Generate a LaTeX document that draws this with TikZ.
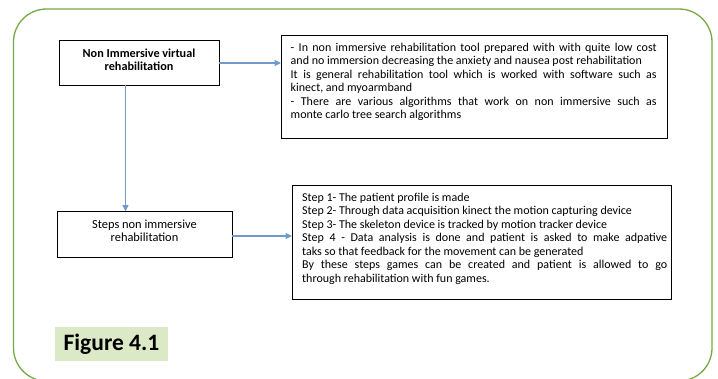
\documentclass[tikz,border=0pt]{standalone}
\usepackage{fontspec}
\setmainfont{Carlito}
\usetikzlibrary{arrows.meta}
\definecolor{framegreen}{HTML}{77A844}
\definecolor{labelgreen}{HTML}{DCE9C6}
\definecolor{linkblue}{HTML}{6F9BCB}
\hyphenpenalty=10000
\exhyphenpenalty=10000
\tikzset{
  box/.style={draw=black, line width=0.9pt, inner sep=0pt},
  link/.style={draw=linkblue, line width=1.2pt, -{Triangle[length=6.5pt,width=6pt]}},
  para/.style={font=\fontsize{12}{13.45}\selectfont, align=justify, anchor=north west, inner sep=0pt},
  title/.style={font=\fontsize{12.4}{13.2}\selectfont, align=center},
  boldtitle/.style={font=\bfseries\fontsize{12.2}{13.2}\selectfont, align=center},
}
\begin{document}
\begin{tikzpicture}[x=1pt,y=-1pt]
\useasboundingbox (0,0) rectangle (718,378);
% outer frame
\begin{scope}
\clip (0,0) rectangle (718,378);
\draw[framegreen, line width=1.3pt, rounded corners=33pt] (13.5,9) rectangle (712,381);
\end{scope}

% boxes
\draw[box] (59,40) rectangle (219,85);
\node[boldtitle] (nonimm) at (139,59.5) {Non Immersive virtual\\rehabilitation};
\coordinate (b1r) at (219,63);
\coordinate (b1b) at (125.5,85);

\draw[box] (281,35.5) rectangle (667,138);
\node[para, text width=366pt] (info) at (290.5,43) {- In non immersive rehabilitation tool prepared with with quite low cost\linebreak and no immersion decreasing the anxiety and nausea post rehabilitation\\ It is general rehabilitation tool which is worked with software such as\linebreak kinect, and myoarmband\\ - There are various algorithms that work on non immersive such as\linebreak monte carlo tree search algorithms};
\coordinate (b2l) at (281,63);

\draw[box] (57,211.5) rectangle (232,257);
\node[title] (steps) at (144.5,230.5) {Steps non immersive\\rehabilitation};
\coordinate (b3t) at (125.5,211.5);
\coordinate (b3r) at (232,236);

\draw[box] (292,185) rectangle (671.5,299);
\node[para, text width=365pt] (stepinfo) at (302,193) {Step 1- The patient profile is made\\ Step 2- Through data acquisition kinect the motion capturing device\\ Step 3- The skeleton device is tracked by motion tracker device\\ Step 4 - Data analysis is done and patient is asked to make adpative\linebreak taks so that feedback for the movement can be generated\\ By these steps games can be created and patient is allowed to go\linebreak through rehabilitation with fun games.};
\coordinate (b4l) at (292,236);

% connectors
\draw[link] (b1r) -- (b2l);
\draw[link] (b1b) -- (b3t);
\draw[link] (b3r) -- (b4l);

% caption tag
\node[fill=labelgreen, minimum width=113pt, minimum height=34pt, inner sep=0pt, font=\bfseries\fontsize{23.5}{25}\selectfont] (caption) at (111.5,344) {Figure 4.1};
\end{tikzpicture}
\end{document}
